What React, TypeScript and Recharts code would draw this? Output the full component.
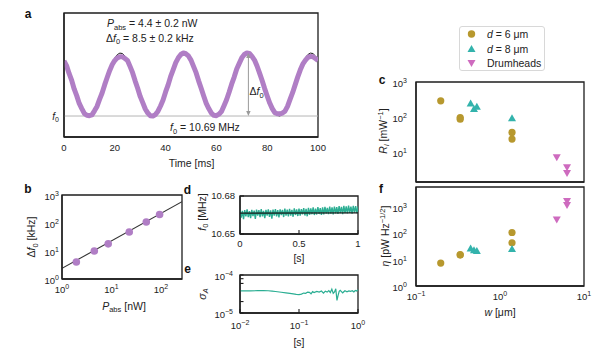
import React from 'react';
import { ComposedChart, Line, Scatter, XAxis, YAxis, ReferenceLine, ReferenceArea } from 'recharts';

const FONT = '"Liberation Sans", Arial, Helvetica, sans-serif';
const INK = '#222';
const FRAME = '#1e1e1e';
const PURPLE = '#B07EC5';
const TEAL = '#2BAE93';
const TEAL_TRI = '#33B3AC';
const GOLD = '#B7982E';
const PINK = '#CE6BBF';

// ---------- panel a : frequency shift vs time ----------
const aTime = [0,1,2,3,4,5,6,7,8,9,10,11,12,13,14,15,16,17,18,19,20,21,22,23,24,25,26,27,28,29,30,31,32,33,34,35,36,37,38,39,40,41,42,43,44,45,46,47,48,49,50,51,52,53,54,55,56,57,58,59,60,61,62,63,64,65,66,67,68,69,70,71,72,73,74,75,76,77,78,79,80,81,82,83,84,85,86,87,88,89,90,91,92,93,94,95,96,97,98,99,100];
const aSignal = [
  7.45, 6.80, 5.75, 4.85, 3.65, 2.75, 1.70, 1.00, 0.35, 0.10,
  0.05, 0.15, 0.70, 1.30, 2.25, 3.10, 4.20, 5.20, 6.15, 6.95,
  7.50, 7.85, 8.00, 8.00, 7.75, 7.50, 6.70, 5.85, 4.75, 3.75,
  2.65, 1.80, 0.95, 0.40, 0.05, 0.00, 0.20, 0.65, 1.35, 2.15,
  3.25, 4.20, 5.35, 6.25, 7.20, 7.85, 8.30, 8.50, 8.40, 8.10,
  7.55, 6.70, 5.85, 4.75, 3.75, 2.70, 1.70, 1.00, 0.40, 0.10,
  0.05, 0.25, 0.60, 1.40, 2.20, 3.20, 4.30, 5.25, 6.35, 7.10,
  7.85, 8.30, 8.50, 8.45, 8.05, 7.55, 6.75, 5.80, 4.80, 3.70,
  2.70, 1.75, 1.00, 0.45, 0.30, 0.30, 0.40, 0.65, 1.30, 2.25,
  3.15, 4.20, 5.25, 6.20, 7.00, 7.50, 7.90, 8.05, 8.00, 7.75,
  7.50,
];
const aFit = [
  7.53, 6.75, 5.82, 4.78, 3.72, 2.69, 1.75, 0.98, 0.40, 0.08,
  0.01, 0.21, 0.66, 1.34, 2.20, 3.19, 4.25, 5.31, 6.30, 7.16,
  7.84, 8.29, 8.49, 8.43, 8.10,
  7.53, 6.75, 5.82, 4.78, 3.72, 2.69, 1.75, 0.98, 0.40, 0.08,
  0.01, 0.21, 0.66, 1.34, 2.20, 3.19, 4.25, 5.31, 6.30, 7.16,
  7.84, 8.29, 8.49, 8.43, 8.10,
  7.53, 6.75, 5.82, 4.78, 3.72, 2.69, 1.75, 0.98, 0.40, 0.08,
  0.01, 0.21, 0.66, 1.34, 2.20, 3.19, 4.25, 5.31, 6.30, 7.16,
  7.84, 8.29, 8.49, 8.43, 8.10,
  7.53, 6.75, 5.82, 4.78, 3.72, 2.69, 1.75, 0.98, 0.40, 0.08,
  0.01, 0.21, 0.66, 1.34, 2.20, 3.19, 4.25, 5.31, 6.30, 7.16,
  7.84, 8.29, 8.49, 8.43, 8.10,
  7.53,
];
const aTicks = [0, 20, 40, 60, 80, 100];
const aXDomain = [0, 100];
const aYDomain = [-2.83, 13.9];
const aArrowTime = 72.6;
const aShift = 8.5;

// ---------- panel b : shift vs absorbed power ----------
const bPower = [1.95, 4.5, 8.6, 22.9, 50.6, 94];
const bShift = [4.05, 10, 18, 48, 108, 200];
const bFitPower = [1, 267];
const bFitShift = [2.4, 575];
const bXTicks = [1, 10, 100];
const bYTicks = [1, 10, 100, 1000];
const bXDomain = [1, 267];
const bYDomain = [1, 1000];

// ---------- panel d : f0 over time ----------
const dTime = [0,0.01,0.02,0.03,0.04,0.05,0.06,0.07,0.08,0.09,0.1,0.11,0.12,0.13,0.14,0.15,0.16,0.17,0.18,0.19,0.2,0.21,0.22,0.23,0.24,0.25,0.26,0.27,0.28,0.29,0.3,0.31,0.32,0.33,0.34,0.35,0.36,0.37,0.38,0.39,0.4,0.41,0.42,0.43,0.44,0.45,0.46,0.47,0.48,0.49,0.5,0.51,0.52,0.53,0.54,0.55,0.56,0.57,0.58,0.59,0.6,0.61,0.62,0.63,0.64,0.65,0.66,0.67,0.68,0.69,0.7,0.71,0.72,0.73,0.74,0.75,0.76,0.77,0.78,0.79,0.8,0.81,0.82,0.83,0.84,0.85,0.86,0.87,0.88,0.89,0.9,0.91,0.92,0.93,0.94,0.95,0.96,0.97,0.98,0.99,1];
const dFreq = [
  10.6692, 10.6630, 10.6682, 10.6618, 10.6688, 10.6640, 10.6694, 10.6634, 10.6680, 10.6625,
  10.6690, 10.6642, 10.6684, 10.6620, 10.6692, 10.6645, 10.6688, 10.6634, 10.6696, 10.6640,
  10.6682, 10.6626, 10.6690, 10.6645, 10.6694, 10.6636, 10.6686, 10.6622, 10.6692, 10.6646,
  10.6697, 10.6640, 10.6688, 10.6632, 10.6694, 10.6650, 10.6690, 10.6634, 10.6700, 10.6645,
  10.6692, 10.6640, 10.6698, 10.6646, 10.6690, 10.6636, 10.6702, 10.6650, 10.6694, 10.6642,
  10.6700, 10.6645, 10.6696, 10.6655, 10.6704, 10.6646, 10.6698, 10.6640, 10.6707, 10.6652,
  10.6702, 10.6656, 10.6710, 10.6650, 10.6700, 10.6654, 10.6712, 10.6658, 10.6704, 10.6650,
  10.6710, 10.6654, 10.6714, 10.6662, 10.6706, 10.6656, 10.6716, 10.6660, 10.6710, 10.6654,
  10.6717, 10.6662, 10.6712, 10.6658, 10.6720, 10.6664, 10.6714, 10.6656, 10.6722, 10.6664,
  10.6718, 10.6662, 10.6724, 10.6666, 10.6716, 10.6660, 10.6722, 10.6668, 10.6720, 10.6664,
  10.6718,
];
const dFitTime = [0, 1];
const dFitFreq = [10.6665, 10.6667];
const dXTicks = [0, 0.5, 1];
const dYTicks = [10.65, 10.68];
const dXDomain = [0, 1];
const dYDomain = [10.65, 10.68];

// ---------- panel e : Allan deviation ----------
const eTau = [0.01,0.012,0.015,0.02,0.025,0.03,0.035,0.04,0.05,0.06,0.07,0.08,0.09,0.1,0.11,0.12,0.13,0.14,0.15,0.16,0.17,0.18,0.2,0.22,0.24,0.26,0.28,0.3,0.32,0.34,0.36,0.38,0.4,0.42,0.44,0.46,0.48,0.5,0.55,0.6,0.65,0.7,0.75,0.8,0.85,0.9,0.95,1.0];
const eSigma = [3.82e-5,3.83e-5,3.84e-5,3.86e-5,3.86e-5,3.85e-5,3.78e-5,3.68e-5,3.52e-5,3.40e-5,3.30e-5,3.20e-5,3.10e-5,3.05e-5,3.15e-5,3.35e-5,3.30e-5,3.55e-5,3.50e-5,3.20e-5,3.65e-5,3.45e-5,3.70e-5,3.55e-5,3.80e-5,3.35e-5,3.75e-5,3.55e-5,3.90e-5,3.45e-5,4.25e-5,3.30e-5,3.60e-5,4.35e-5,2.15e-5,2.90e-5,3.70e-5,3.95e-5,3.40e-5,3.85e-5,3.60e-5,3.80e-5,3.70e-5,3.85e-5,3.60e-5,3.90e-5,3.80e-5,4.10e-5];
const eXTicks = [0.01, 0.1, 1];
const eYTicks = [1e-5, 2e-5, 6e-5, 8e-5, 1e-4];
const eXDomain = [0.01, 1];
const eYDomain = [1e-5, 1e-4];

// ---------- panels c & f : responsivity and NEP vs width ----------
const seriesNames = ['d = 6 \u03bcm', 'd = 8 \u03bcm', 'Drumheads'];
const seriesColors = [GOLD, TEAL_TRI, PINK];
const goldW = [0.197, 0.336, 0.336, 1.39, 1.39];
const goldR = [292, 98, 88, 37, 24];
const goldEta = [7.4, 14.8, 15.5, 106, 43];
const tealW = [0.447, 0.49, 0.53, 1.39];
const tealR = [245, 170, 197, 94];
const tealEta = [26.5, 22.8, 21, 25];
const pinkW = [4.74, 6.28, 6.28];
const pinkR = [7.3, 3.8, 2.6];
const pinkEta = [330, 1660, 1170];
const wTicks = [0.1, 1, 10];
const wDomain = [0.1, 10];
const cYTicks = [10, 100, 1000];
const cYDomain = [1.45, 1000];
const fYTicks = [1, 10, 100, 1000];
const fYDomain = [1, 5600];

// ---------- helpers ----------
const zip = (xs: number[], ys: number[]) => xs.map((x, i) => ({ x, y: ys[i] }));
const frameLine = { stroke: FRAME, strokeWidth: 1.3 };
const frame = (xd: number[], yd: number[]) => (
  <ReferenceArea x1={xd[0]} x2={xd[1]} y1={yd[0]} y2={yd[1]} fill="none" fillOpacity={0}
    stroke={FRAME} strokeWidth={1.3} ifOverflow="visible" />
);

const pow10 = (v: number) => {
  const e = Math.log10(v);
  const r = Math.round(e);
  if (Math.abs(e - r) > 1e-6) return null;
  return (
    <>
      10<tspan dy={-4} fontSize={7}>{r < 0 ? `\u2212${-r}` : `${r}`}</tspan>
    </>
  );
};
const plain = (v: number) => String(v);

const makeTick = (anchor: 'start' | 'middle' | 'end', dy: number, fmt: (v: number) => React.ReactNode) =>
  (props: any) => {
    const { x, y, payload } = props;
    const content = fmt(payload.value);
    if (content == null) return <g />;
    return (
      <text x={x} y={y + dy} textAnchor={anchor} fontSize={9.5} fill={INK} fontFamily={FONT}>
        {content}
      </text>
    );
  };

const F0Tick = (props: any) => (
  <text x={props.x} y={props.y + 3.5} textAnchor="end" fontSize={10} fill={INK} fontFamily={FONT}>
    <tspan fontStyle="italic">f</tspan>
    <tspan fontSize={7} dy={2.5}>0</tspan>
  </text>
);

const DoubleArrow = (props: any) => {
  const { x1, y1, x2, y2 } = props;
  if ([x1, y1, x2, y2].some((v) => typeof v !== 'number' || isNaN(v))) return <g />;
  const x = x1;
  const top = Math.min(y1, y2);
  const bot = Math.max(y1, y2);
  const c = '#9a9a9a';
  return (
    <g>
      <line x1={x} x2={x} y1={top + 3} y2={bot - 3} stroke={c} strokeWidth={1} />
      <polygon points={`${x},${top} ${x - 2.2},${top + 5} ${x + 2.2},${top + 5}`} fill={c} />
      <polygon points={`${x},${bot} ${x - 2.2},${bot - 5} ${x + 2.2},${bot - 5}`} fill={c} />
    </g>
  );
};

const circleShape = (r: number, fill: string) => (p: any) => <circle cx={p.cx} cy={p.cy} r={r} fill={fill} />;
const upShape = (s: number, fill: string) => (p: any) => (
  <polygon points={`${p.cx},${p.cy - s} ${p.cx - s},${p.cy + s * 0.75} ${p.cx + s},${p.cy + s * 0.75}`} fill={fill} />
);
const downShape = (s: number, fill: string) => (p: any) => (
  <polygon points={`${p.cx},${p.cy + s} ${p.cx - s},${p.cy - s * 0.75} ${p.cx + s},${p.cy - s * 0.75}`} fill={fill} />
);

const Marker = ({ kind, color }: { kind: number; color: string }) => {
  const cx = 12.5, cy = 7, s = 4;
  if (kind === 0) return <circle cx={cx} cy={cy} r={3.7} fill={color} />;
  if (kind === 1) return <polygon points={`${cx},${cy - s} ${cx - s},${cy + s * 0.75} ${cx + s},${cy + s * 0.75}`} fill={color} />;
  return <polygon points={`${cx},${cy + s} ${cx - s},${cy - s * 0.75} ${cx + s},${cy - s * 0.75}`} fill={color} />;
};

const legendLabel = (v: string) =>
  v.startsWith('d =') ? (
    <>
      <i>d</i>
      {v.slice(1)}
    </>
  ) : (
    v
  );

const LegendBox = () => (
  <div
    style={{
      position: 'absolute', left: 459, top: 26,
      width: 86, height: 45, boxSizing: 'border-box', border: '1px solid #d8d8d8', borderRadius: 3,
      background: '#fff', fontFamily: FONT, fontSize: 10.5, color: INK,
    }}
  >
    {seriesNames.map((name, i) => (
      <div key={i} style={{ position: 'absolute', left: -1, top: i * 14.5, height: 14, width: 86, display: 'flex', alignItems: 'center' }}>
        <svg width={26} height={14} style={{ display: 'block' }}>
          <Marker kind={i} color={seriesColors[i]} />
        </svg>
        <span style={{ marginLeft: 2, whiteSpace: 'nowrap', lineHeight: '14px' }}>{legendLabel(name)}</span>
      </div>
    ))}
  </div>
);

// ---------- panels ----------
const PanelA = () => {
  const rows = aTime.map((t, i) => ({ x: t, sig: aSignal[i], fit: aFit[i] }));
  return (
    <ComposedChart width={330} height={175} data={rows} margin={{ top: 13, right: 12, left: 0, bottom: 0 }}>
      <XAxis dataKey="x" type="number" domain={aXDomain} ticks={aTicks} interval={0} allowDataOverflow height={38}
        tickSize={0} tickMargin={0} tickLine={false} axisLine={frameLine} tick={makeTick('middle', 13.5, plain)} />
      <YAxis type="number" domain={aYDomain} ticks={[0]} interval={0} allowDataOverflow width={64}
        tickSize={0} tickMargin={5} tickLine={false} axisLine={frameLine} tick={F0Tick} />
      <ReferenceLine y={0} stroke="#b5b5b5" strokeWidth={1} />
      <Line dataKey="fit" stroke="#1a1a1a" strokeWidth={1} dot={false} isAnimationActive={false} />
      <Line dataKey="sig" stroke={PURPLE} strokeWidth={5} dot={false} isAnimationActive={false} strokeLinejoin="round" />
      <ReferenceLine segment={[{ x: aArrowTime, y: 0 }, { x: aArrowTime, y: aShift }]} shape={DoubleArrow} />
      {frame(aXDomain, aYDomain)}
    </ComposedChart>
  );
};

const PanelB = () => (
  <ComposedChart width={200} height={140} margin={{ top: 15, right: 18, left: 0, bottom: 0 }}>
    <XAxis dataKey="x" type="number" scale="log" domain={bXDomain} ticks={bXTicks} interval={0} allowDataOverflow height={41}
      tickSize={0} tickMargin={0} tickLine={false} axisLine={frameLine} tick={makeTick('middle', 13.5, pow10)} />
    <YAxis dataKey="y" type="number" scale="log" domain={bYDomain} ticks={bYTicks} interval={0} allowDataOverflow width={62}
      tickSize={0} tickMargin={3} tickLine={false} axisLine={frameLine} tick={makeTick('end', 5, pow10)} />
    <Line data={zip(bFitPower, bFitShift)} dataKey="y" stroke="#333" strokeWidth={1.1} dot={false} isAnimationActive={false} />
    <Scatter data={zip(bPower, bShift)} dataKey="y" fill={PURPLE} shape={circleShape(3.8, PURPLE)} isAnimationActive={false} />
    {frame(bXDomain, bYDomain)}
  </ComposedChart>
);

const PanelD = () => (
  <ComposedChart width={190} height={70} margin={{ top: 16, right: 12, left: 0, bottom: 0 }}>
    <XAxis dataKey="x" type="number" domain={dXDomain} ticks={dXTicks} interval={0} allowDataOverflow height={16}
      tickSize={-4} tickMargin={4} tickLine={{ stroke: FRAME, strokeWidth: 1.1 }} axisLine={frameLine} tick={makeTick('middle', 13, plain)} />
    <YAxis dataKey="y" type="number" domain={dYDomain} ticks={dYTicks} interval={0} allowDataOverflow width={60}
      tickSize={-4} tickMargin={9} tickLine={{ stroke: FRAME, strokeWidth: 1.1 }} axisLine={frameLine} tick={makeTick('end', 3.4, plain)} />
    <Line data={zip(dTime, dFreq)} dataKey="y" stroke={TEAL} strokeWidth={1.4} dot={false} isAnimationActive={false} />
    <Line data={zip(dFitTime, dFitFreq)} dataKey="y" stroke="#1a1a1a" strokeWidth={1.3} dot={false} isAnimationActive={false} />
    {frame(dXDomain, dYDomain)}
  </ComposedChart>
);

const PanelE = () => (
  <ComposedChart width={190} height={75} margin={{ top: 15, right: 12, left: 0, bottom: 0 }}>
    <XAxis dataKey="x" type="number" scale="log" domain={eXDomain} ticks={eXTicks} interval={0} allowDataOverflow height={22}
      tickSize={-4} tickMargin={4} tickLine={{ stroke: FRAME, strokeWidth: 1.1 }} axisLine={frameLine} tick={makeTick('middle', 15.5, pow10)} />
    <YAxis dataKey="y" type="number" scale="log" domain={eYDomain} ticks={eYTicks} interval={0} allowDataOverflow width={60}
      tickSize={-3.5} tickMargin={10.5} tickLine={{ stroke: FRAME, strokeWidth: 1.1 }} axisLine={frameLine} tick={makeTick('end', 4.5, pow10)} />
    <Line data={zip(eTau, eSigma)} dataKey="y" stroke={TEAL} strokeWidth={1.2} dot={false} isAnimationActive={false} />
    {frame(eXDomain, eYDomain)}
  </ComposedChart>
);

const PanelC = () => (
  <ComposedChart width={240} height={190} margin={{ top: 82, right: 16, left: 0, bottom: 0 }}>
    <XAxis dataKey="x" type="number" scale="log" domain={wDomain} ticks={wTicks} interval={0} allowDataOverflow height={8}
      tick={false} tickLine={false} axisLine={frameLine} />
    <YAxis dataKey="y" type="number" scale="log" domain={cYDomain} ticks={cYTicks} interval={0} allowDataOverflow width={56}
      tickSize={0} tickMargin={9} tickLine={false} axisLine={frameLine} tick={makeTick('end', 5, pow10)} />
    <Scatter name={seriesNames[0]} data={zip(goldW, goldR)} dataKey="y" fill={GOLD} shape={circleShape(3.6, GOLD)} isAnimationActive={false} />
    <Scatter name={seriesNames[1]} data={zip(tealW, tealR)} dataKey="y" fill={TEAL_TRI} shape={upShape(4, TEAL_TRI)} isAnimationActive={false} />
    <Scatter name={seriesNames[2]} data={zip(pinkW, pinkR)} dataKey="y" fill={PINK} shape={downShape(4, PINK)} isAnimationActive={false} />
    {frame(wDomain, cYDomain)}
  </ComposedChart>
);

const PanelF = () => (
  <ComposedChart width={240} height={130} margin={{ top: 7, right: 16, left: 0, bottom: 0 }}>
    <XAxis dataKey="x" type="number" scale="log" domain={wDomain} ticks={wTicks} interval={0} allowDataOverflow height={24}
      tickSize={0} tickMargin={0} tickLine={false} axisLine={frameLine} tick={makeTick('middle', 14, pow10)} />
    <YAxis dataKey="y" type="number" scale="log" domain={fYDomain} ticks={fYTicks} interval={0} allowDataOverflow width={56}
      tickSize={0} tickMargin={9} tickLine={false} axisLine={frameLine} tick={makeTick('end', 5, pow10)} />
    <Scatter name={seriesNames[0]} data={zip(goldW, goldEta)} dataKey="y" fill={GOLD} shape={circleShape(3.6, GOLD)} isAnimationActive={false} />
    <Scatter name={seriesNames[1]} data={zip(tealW, tealEta)} dataKey="y" fill={TEAL_TRI} shape={upShape(4, TEAL_TRI)} isAnimationActive={false} />
    <Scatter name={seriesNames[2]} data={zip(pinkW, pinkEta)} dataKey="y" fill={PINK} shape={downShape(4, PINK)} isAnimationActive={false} />
    {frame(wDomain, fYDomain)}
  </ComposedChart>
);

const Txt = (p: any) => <text fontFamily={FONT} fill={INK} fontSize={10.5} {...p} />;
const Letter = ({ x, y, c }: { x: number; y: number; c: string }) => (
  <text x={x} y={y} fontFamily={FONT} fill="#111" fontSize={12} fontWeight="bold" textAnchor="middle">{c}</text>
);
const VLabel = ({ x, y, children }: any) => (
  <text transform={`translate(${x},${y}) rotate(-90)`} textAnchor="middle" dy="0.35em" fontFamily={FONT} fill={INK} fontSize={10.5}>
    {children}
  </text>
);

const Overlay = () => (
  <svg width={600} height={351} style={{ position: 'absolute', left: 0, top: 0, pointerEvents: 'none' }}>
    <Letter x={28} y={17.5} c="a" />
    <Letter x={28} y={192.5} c="b" />
    <Letter x={187.5} y={194} c="d" />
    <Letter x={187.5} y={272.5} c="e" />
    <Letter x={382} y={83.5} c="c" />
    <Letter x={381} y={192.5} c="f" />

    <Txt x={107} y={27}>
      <tspan fontStyle="italic">P</tspan>
      <tspan fontSize={7.5} dy={2.5}>abs</tspan>
      <tspan dy={-2.5}> = 4.4 ± 0.2 nW</tspan>
    </Txt>
    <Txt x={106} y={41.5}>
      <tspan>Δ</tspan>
      <tspan fontStyle="italic">f</tspan>
      <tspan fontSize={7.5} dy={2.5}>0</tspan>
      <tspan dy={-2.5}> = 8.5 ± 0.2 kHz</tspan>
    </Txt>
    <Txt x={249.5} y={95}>
      <tspan>Δ</tspan>
      <tspan fontStyle="italic">f</tspan>
      <tspan fontSize={7.5} dy={2.5}>0</tspan>
    </Txt>
    <Txt x={170} y={131}>
      <tspan fontStyle="italic">f</tspan>
      <tspan fontSize={7.5} dy={2.5}>0</tspan>
      <tspan dy={-2.5}> = 10.69 MHz</tspan>
    </Txt>
    <Txt x={191.5} y={166.5} textAnchor="middle">Time [ms]</Txt>

    <Txt x={124} y={309.5} textAnchor="middle">
      <tspan fontStyle="italic">P</tspan>
      <tspan fontSize={7.5} dy={2.5}>abs</tspan>
      <tspan dy={-2.5}> [nW]</tspan>
    </Txt>
    <VLabel x={31.5} y={237}>
      <tspan>Δ</tspan>
      <tspan fontStyle="italic">f</tspan>
      <tspan fontSize={7.5} dy={2.5}>0</tspan>
      <tspan dy={-2.5}> [kHz]</tspan>
    </VLabel>

    <VLabel x={202} y={212}>
      <tspan fontStyle="italic">f</tspan>
      <tspan fontSize={7.5} dy={2.5}>0</tspan>
      <tspan dy={-2.5}> [MHz]</tspan>
    </VLabel>
    <Txt x={299} y={262} textAnchor="middle">[s]</Txt>
    <VLabel x={202} y={294}>
      <tspan fontStyle="italic">σ</tspan>
      <tspan fontSize={7.5} dy={2.5} fontStyle="italic">A</tspan>
    </VLabel>
    <Txt x={299} y={345.5} textAnchor="middle">[s]</Txt>

    <VLabel x={383} y={131}>
      <tspan fontStyle="italic">R</tspan>
      <tspan fontSize={7.5} dy={2.5} fontStyle="italic">l</tspan>
      <tspan dy={-2.5}> [mW</tspan>
      <tspan fontSize={7.5} dy={-4}>−1</tspan>
      <tspan dy={4}>]</tspan>
    </VLabel>
    <VLabel x={385} y={236}>
      <tspan fontStyle="italic">η</tspan>
      <tspan> [pW Hz</tspan>
      <tspan fontSize={7.5} dy={-4}>−1/2</tspan>
      <tspan dy={4}>]</tspan>
    </VLabel>
    <Txt x={500} y={315.5} textAnchor="middle">
      <tspan fontStyle="italic">w</tspan>
      <tspan> [μm]</tspan>
    </Txt>
  </svg>
);

const place = (left: number, top: number, el: React.ReactNode) => (
  <div style={{ position: 'absolute', left, top }}>{el}</div>
);

export default function App() {
  return (
    <div style={{ position: 'absolute', left: 0, top: 0, width: 600, height: 351, background: '#fff', overflow: 'hidden', fontFamily: FONT }}>
      {place(0, 0, <PanelA />)}
      {place(0, 180, <PanelB />)}
      {place(180, 180, <PanelD />)}
      {place(180, 260, <PanelE />)}
      {place(360, 0, <PanelC />)}
      {place(360, 180, <PanelF />)}
      <LegendBox />
      <Overlay />
    </div>
  );
}
